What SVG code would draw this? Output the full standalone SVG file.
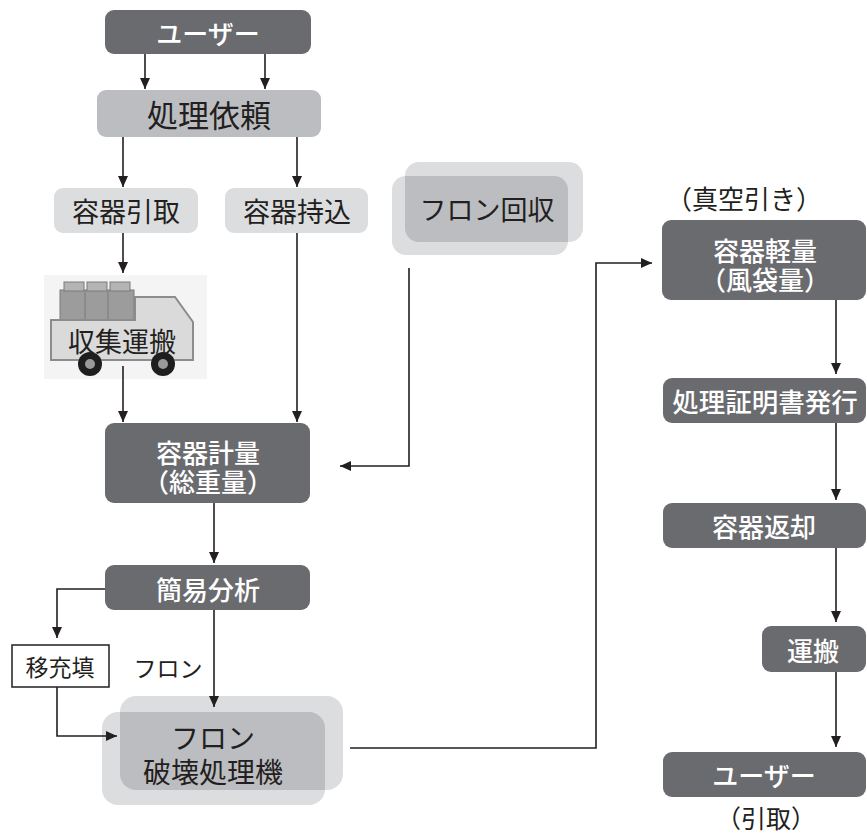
<svg xmlns="http://www.w3.org/2000/svg" width="867" height="834" viewBox="0 0 867 834">
  <style>
    text { font-family: "Noto Sans CJK JP", "Noto Sans", sans-serif; text-anchor: middle; dominant-baseline: central; }
    .dark { fill: #6a6b6f; }
    .light { fill: #dcdddf; }
    .mid { fill: #bcbdc0; }
    .wt { fill: #ffffff; font-size: 26px; font-weight: 500; }
    .bt { fill: #231f20; font-size: 26px; }
    .edge { fill: none; stroke: #231f20; stroke-width: 1.6; }
  </style>
  <defs>
    <marker id="arr" markerUnits="userSpaceOnUse" markerWidth="12" markerHeight="10" refX="11" refY="5" orient="auto">
      <path d="M0,0 L11,5 L0,10 z" fill="#231f20"/>
    </marker>
    <clipPath id="clipFreonA"><rect x="405" y="162" width="178" height="80" rx="14"/></clipPath>
    <clipPath id="clipDestA"><rect x="120" y="696" width="223" height="94" rx="16"/></clipPath>
  </defs>

  <g id="user-top">
    <rect class="dark" x="105" y="10" width="206" height="44" rx="9"/>
    <text class="wt" x="208" y="32">ユーザー</text>
  </g>

  <g id="request">
    <rect class="mid" x="97" y="90" width="224" height="47" rx="9"/>
    <text class="bt" x="209" y="113" style="font-size:31px">処理依頼</text>
  </g>

  <g id="pickup">
    <rect class="light" x="54" y="188" width="144" height="45" rx="9"/>
    <text class="bt" x="126" y="210" style="font-size:27px">容器引取</text>
  </g>

  <g id="bring-in">
    <rect class="light" x="225" y="188" width="143" height="45" rx="9"/>
    <text class="bt" x="297" y="210" style="font-size:27px">容器持込</text>
  </g>

  <g id="freon-recovery">
    <rect class="light" x="405" y="162" width="178" height="80" rx="14"/>
    <rect class="light" x="392" y="176" width="176" height="79" rx="14"/>
    <rect class="mid" x="392" y="176" width="176" height="79" rx="14" clip-path="url(#clipFreonA)"/>
    <text class="bt" x="487" y="208" style="font-size:27px">フロン回収</text>
  </g>

  <g id="transport-truck">
    <rect x="44" y="275" width="163" height="104" fill="#f4f4f4"/>
    <!-- containers on the bed -->
    <rect x="60" y="290" width="74" height="30" fill="#9c9c9c" stroke="#7a7a7a"/>
    <rect x="64" y="282" width="20" height="9" fill="#b4b4b4" stroke="#7a7a7a"/>
    <rect x="87" y="282" width="20" height="9" fill="#b4b4b4" stroke="#7a7a7a"/>
    <rect x="110" y="282" width="20" height="9" fill="#b4b4b4" stroke="#7a7a7a"/>
    <line x1="85" y1="291" x2="85" y2="320" stroke="#7a7a7a"/>
    <line x1="108" y1="291" x2="108" y2="320" stroke="#7a7a7a"/>
    <!-- body and cab -->
    <path d="M51,320 H135 V297 H175 L193,322 V360 H51 Z" fill="#dadada" stroke="#8c8c8c" stroke-width="2"/>
    <!-- wheels -->
    <circle cx="90" cy="364" r="12" fill="#1e1e1e"/>
    <circle cx="90" cy="364" r="5" fill="#9a9a9a"/>
    <circle cx="163" cy="364" r="12" fill="#1e1e1e"/>
    <circle cx="163" cy="364" r="5" fill="#9a9a9a"/>
    <text class="bt" x="122" y="340" style="font-size:27px">収集運搬</text>
  </g>

  <g id="gross-weigh">
    <rect class="dark" x="105" y="423" width="205" height="80" rx="9"/>
    <text class="wt" x="208" y="451">容器計量</text>
    <text class="wt" x="208" y="480">（総重量）</text>
  </g>

  <g id="analysis">
    <rect class="dark" x="105" y="565" width="205" height="45" rx="9"/>
    <text class="wt" x="208" y="588">簡易分析</text>
  </g>

  <g id="transfer-fill">
    <rect x="12" y="645" width="97" height="42" fill="#ffffff" stroke="#231f20" stroke-width="1.5"/>
    <text class="bt" x="60" y="666" style="font-size:23px">移充填</text>
  </g>

  <text class="bt" x="168" y="667" style="font-size:23px">フロン</text>

  <g id="destruction">
    <rect class="light" x="120" y="696" width="223" height="94" rx="16"/>
    <rect class="light" x="102" y="712" width="223" height="93" rx="16"/>
    <rect class="mid" x="102" y="712" width="223" height="93" rx="16" clip-path="url(#clipDestA)"/>
    <text class="bt" x="213" y="737" style="font-size:28px">フロン</text>
    <text class="bt" x="213" y="771" style="font-size:28px">破壊処理機</text>
  </g>

  <text class="bt" x="744" y="197">（真空引き）</text>

  <g id="tare-weigh">
    <rect class="dark" x="662" y="220" width="204" height="80" rx="9"/>
    <text class="wt" x="765" y="249">容器軽量</text>
    <text class="wt" x="765" y="278">（風袋量）</text>
  </g>

  <g id="certificate">
    <rect class="dark" x="663" y="378" width="203" height="45" rx="9"/>
    <text class="wt" x="765" y="400" style="font-size:26.5px">処理証明書発行</text>
  </g>

  <g id="return">
    <rect class="dark" x="663" y="503" width="203" height="45" rx="9"/>
    <text class="wt" x="764" y="525">容器返却</text>
  </g>

  <g id="carry">
    <rect class="dark" x="762" y="626" width="104" height="46" rx="9"/>
    <text class="wt" x="813" y="649">運搬</text>
  </g>

  <g id="user-bottom">
    <rect class="dark" x="663" y="752" width="203" height="45" rx="9"/>
    <text class="wt" x="764" y="774">ユーザー</text>
  </g>

  <text class="bt" x="766" y="817" style="font-size:25px">（引取）</text>

  <!-- connectors, drawn last so arrowheads sit over the node shading -->
  <g id="connectors" class="edge">
    <path d="M145,54 V89" marker-end="url(#arr)"/>
    <path d="M265,54 V89" marker-end="url(#arr)"/>
    <path d="M123,137 V187" marker-end="url(#arr)"/>
    <path d="M297,137 V187" marker-end="url(#arr)"/>
    <path d="M123,233 V273" marker-end="url(#arr)"/>
    <path d="M123,366 V422" marker-end="url(#arr)"/>
    <path d="M297,233 V422" marker-end="url(#arr)"/>
    <path d="M409,268 V466 H340" marker-end="url(#arr)"/>
    <path d="M214,503 V563" marker-end="url(#arr)"/>
    <path d="M105,589 H57 V638" marker-end="url(#arr)"/>
    <path d="M57,687 V736 H117" marker-end="url(#arr)"/>
    <path d="M214,610 V707" marker-end="url(#arr)"/>
    <path d="M350,748 H596 V263 H652" marker-end="url(#arr)"/>
    <path d="M836,300 V374" marker-end="url(#arr)"/>
    <path d="M836,423 V500" marker-end="url(#arr)"/>
    <path d="M836,548 V622" marker-end="url(#arr)"/>
    <path d="M836,672 V747" marker-end="url(#arr)"/>
  </g>
</svg>
